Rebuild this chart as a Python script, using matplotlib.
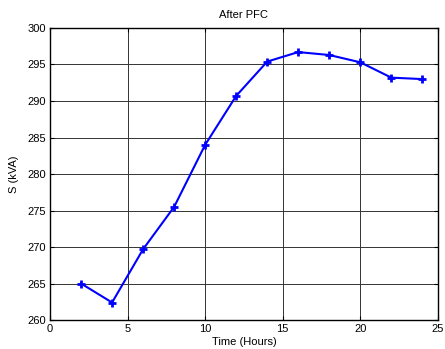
import matplotlib
matplotlib.use('Agg')
import matplotlib.pyplot as plt

# datos
horas = [2, 4, 6, 8, 10, 12, 14, 16, 18, 20, 22, 24]
s_kva = [265.0, 262.4, 269.7, 275.5, 284.0, 290.7, 295.4, 296.7, 296.3, 295.3, 293.2, 293.0]
xticks = [0, 5, 10, 15, 20, 25]
yticks = [260, 265, 270, 275, 280, 285, 290, 295, 300]

plt.rcParams['font.family'] = ['Liberation Sans', 'DejaVu Sans']
fig = plt.figure(figsize=(4.45, 3.49), dpi=100)
ax = fig.add_axes([0.1124, 0.083, 0.8716, 0.8368])
ax.plot(horas, s_kva, color='#0000ff', lw=1.5, marker='+', ms=6, mew=2)
ax.set_xlim(0, 25)
ax.set_ylim(260, 300)
ax.set_xticks(xticks)
ax.set_yticks(yticks)
ax.grid(True, color='#333333', lw=0.7)
ax.tick_params(labelsize=8, direction='in', length=3, pad=3)
ax.tick_params(top=True, right=True)
for s in ax.spines.values():
    s.set_linewidth(1.0)
ax.set_title('After PFC', fontsize=8, pad=7)
ax.set_xlabel('Time (Hours)', fontsize=8, labelpad=2)
ax.set_ylabel('S (kVA)', fontsize=8, labelpad=6)
fig.savefig('out.png', dpi=100)
plt.close(fig)
